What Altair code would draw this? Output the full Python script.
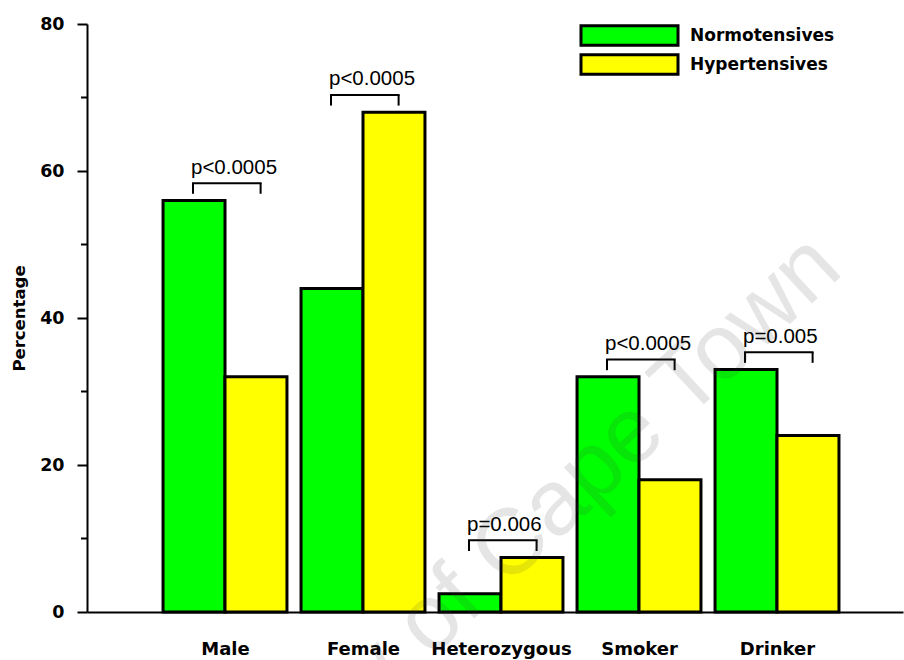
import json

import altair as alt
import pandas as pd

# ---- data -------------------------------------------------------------
categories = ["Male", "Female", "Heterozygous", "Smoker", "Drinker"]
series = ["Normotensives", "Hypertensives"]
normotensive_pct = [56, 44, 2.5, 32, 33]
hypertensive_pct = [32, 68, 7.4, 18, 24]
p_labels = ["p<0.0005", "p<0.0005", "p=0.006", "p<0.0005", "p=0.005"]
y_ticks = [0, 20, 40, 60, 80]
y_minor = [10, 30, 50, 70]
watermark = "University of Cape Town"

# ---- layout / style constants ----------------------------------------------
GREEN, YELLOW = "#00ff00", "#ffff00"
BAR_W = 0.449          # width of one bar, in group units (groups are 1 apart)
X_MAX = 5.913          # right end of the x range, in group units
BRACKET_SHIFT = 0.232  # bracket starts this far left of the group centre
BRACKET_W = 0.49
BOLD = "DejaVu Sans"
PLAIN = "Liberation Sans"

rows = []
for i, cat in enumerate(categories, start=1):
    for j, (name, vals) in enumerate(zip(series, [normotensive_pct, hypertensive_pct])):
        rows.append({
            "category": cat,
            "series": name,
            "value": vals[i - 1],
            "x0": i + (j - 1) * BAR_W,
            "x1": i + j * BAR_W,
        })
bars_df = pd.DataFrame(rows)

brackets = []
for i, (a, b, p) in enumerate(zip(normotensive_pct, hypertensive_pct, p_labels), start=1):
    top = max(a, b)
    xl = i - BRACKET_SHIFT
    brackets.append({
        "xl": xl,
        "xr": xl + BRACKET_W,
        "leg": top + 0.9,
        "bar": top + 2.35,
        "label_y": top + 3.65,
        "label": p,
    })
br_df = pd.DataFrame(brackets)

x_scale = alt.Scale(domain=[0, X_MAX], nice=False, zero=False)
y_scale = alt.Scale(domain=[0, 80], nice=False)

label_expr = json.dumps(categories) + "[datum.value - 1]"

x_axis = alt.Axis(
    values=[1, 2, 3, 4, 5],
    labelExpr=label_expr,
    title=None,
    ticks=False,
    tickSize=0,
    grid=False,
    domainColor="black",
    domainWidth=2,
    labelFont=BOLD,
    labelFontWeight="bold",
    labelFontSize=18,
    labelColor="black",
    labelPadding=28,
    labelFlush=False,
    labelOverlap=False,
)
y_axis = alt.Axis(
    values=y_ticks,
    title="Percentage",
    grid=False,
    domainColor="black",
    domainWidth=2,
    tickColor="black",
    tickWidth=2,
    tickSize=10,
    labelFont=BOLD,
    labelFontWeight="bold",
    labelFontSize=17.5,
    labelColor="black",
    labelPadding=13,
    titleFont=BOLD,
    titleFontWeight="bold",
    titleFontSize=16.5,
    titleColor="black",
    titleAngle=270,
    titleX=-68,
    titleY=294,
    titleAlign="center",
    titleBaseline="middle",
)

bars = alt.Chart(bars_df).mark_rect(stroke="black", strokeWidth=3).encode(
    x=alt.X("x0:Q", scale=x_scale, axis=x_axis),
    x2="x1:Q",
    y=alt.Y("value:Q", scale=y_scale, axis=y_axis),
    y2=alt.datum(0),
    color=alt.Color(
        "series:N",
        scale=alt.Scale(domain=series, range=[GREEN, YELLOW]),
        legend=alt.Legend(
            title=None,
            orient="none",
            direction="vertical",
            legendX=530,
            legendY=-1,
            padding=0,
            symbolType="M-4.41,-0.88H4.41V0.88H-4.41Z",
            symbolSize=484,
            symbolStrokeColor="black",
            symbolStrokeWidth=3,
            symbolOpacity=1,
            labelFont=BOLD,
            labelFontWeight="bold",
            labelFontSize=17,
            labelColor="black",
            labelOffset=48,
            rowPadding=-10.5,
        ),
    ),
)

# short minor ticks between the labelled ones
minor = alt.Chart(pd.DataFrame({"v": y_minor})).mark_rule(color="black", strokeWidth=2).encode(
    y=alt.Y("v:Q", scale=y_scale, axis=y_axis),
    x=alt.value(-6),
    x2=alt.value(0),
)

# significance brackets
bracket_top = alt.Chart(br_df).mark_rule(color="black", strokeWidth=2, strokeCap="square").encode(
    x=alt.X("xl:Q", scale=x_scale, axis=x_axis),
    x2="xr:Q",
    y=alt.Y("bar:Q", scale=y_scale, axis=y_axis),
)
leg_left = alt.Chart(br_df).mark_rule(color="black", strokeWidth=2).encode(
    x=alt.X("xl:Q", scale=x_scale, axis=x_axis),
    y=alt.Y("leg:Q", scale=y_scale, axis=y_axis),
    y2="bar:Q",
)
leg_right = alt.Chart(br_df).mark_rule(color="black", strokeWidth=2).encode(
    x=alt.X("xr:Q", scale=x_scale, axis=x_axis),
    y=alt.Y("leg:Q", scale=y_scale, axis=y_axis),
    y2="bar:Q",
)
p_text = alt.Chart(br_df).mark_text(
    align="left", baseline="alphabetic", font=PLAIN, fontSize=20.5, color="black", dx=-2
).encode(
    x=alt.X("xl:Q", scale=x_scale, axis=x_axis),
    y=alt.Y("label_y:Q", scale=y_scale, axis=y_axis),
    text="label:N",
)

mark_wm = alt.Chart(pd.DataFrame({"t": [watermark]})).mark_text(
    angle=317, font=PLAIN, fontSize=93, color="#404040", opacity=0.13,
    align="center", baseline="alphabetic",
).encode(text="t:N", x=alt.value(392), y=alt.value(590))

chart = (
    alt.layer(bars, minor, bracket_top, leg_left, leg_right, p_text, mark_wm)
    .properties(
        width=816,
        height=588,
        padding={"left": 87, "top": 24, "right": 1, "bottom": 48},
        autosize=alt.AutoSizeParams(type="none"),
        background="white",
    )
    .configure_view(stroke=None)
)

chart.save("out.html", embed_options={"renderer": "svg", "actions": False})
